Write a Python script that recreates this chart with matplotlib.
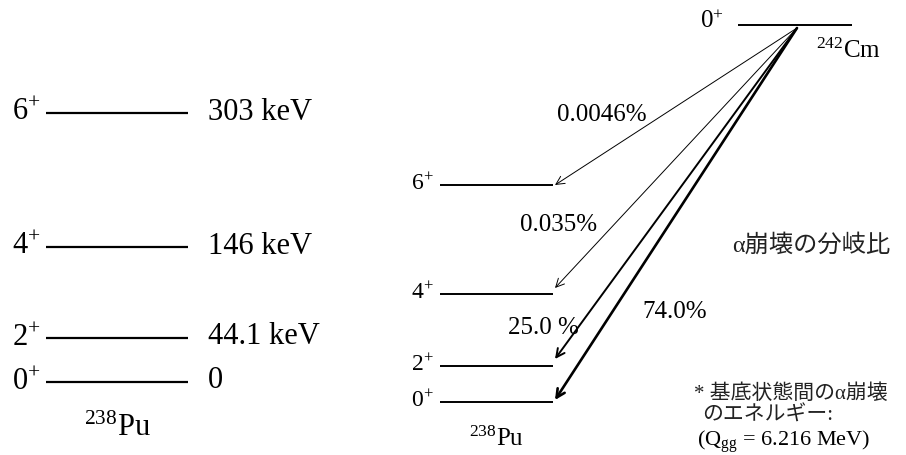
import matplotlib
matplotlib.use("Agg")
import matplotlib.pyplot as plt

plt.rcParams['font.family'] = ['Liberation Serif', 'Noto Sans CJK JP']
plt.rcParams['mathtext.fontset'] = 'custom'
plt.rcParams['mathtext.rm'] = 'Liberation Serif'

# 238Pu levels (spin, energy label)
spins = ['6', '4', '2', '0']
energies = ['303 keV', '146 keV', '44.1 keV', '0']
# alpha branching ratios of 242Cm -> 238Pu levels
branches = ['0.0046%', '0.035%', '25.0 %', '74.0%']

# layout (pixel coordinates, y downwards)
left_y = [113, 247, 338, 382]
right_y = [185, 294, 366, 402]
arrow_end_y = [185, 288, 359, 400]
arrow_lw = [0.7, 0.7, 1.4, 1.9]
branch_xy = [(557, 115), (520, 225), (508, 328), (642, 312)]

fig = plt.figure(figsize=(9.06, 4.55), dpi=100)
ax = fig.add_axes([0, 0, 1, 1])
ax.set_xlim(0, 906)
ax.set_ylim(455, 0)
ax.axis('off')

# left diagram
for s, e, y in zip(spins, energies, left_y):
    ax.plot([46, 188], [y, y], color='black', lw=1.6, solid_capstyle='butt')
    ax.text(41, y, r'$\mathregular{%s^{+}}$' % s, fontsize=22, ha='right', va='center')
    ax.text(208, y - 1, e, fontsize=22, ha='left', va='center')
ax.text(117, 428, r'$\mathregular{^{238}Pu}$', fontsize=22, ha='center', va='center')

# right diagram: 242Cm ground state
ax.plot([738, 852], [25, 25], color='black', lw=1.4, solid_capstyle='butt')
ax.text(724, 22, r'$\mathregular{0^{+}}$', fontsize=18, ha='right', va='center')
ax.text(848, 51, r'$\mathregular{^{242}Cm}$', fontsize=18, ha='center', va='center')

for s, y in zip(spins, right_y):
    ax.plot([440, 553], [y, y], color='black', lw=1.4, solid_capstyle='butt')
    ax.text(434, y - 1, r'$\mathregular{%s^{+}}$' % s, fontsize=17, ha='right', va='center')
ax.text(497, 439, r'$\mathregular{^{238}Pu}$', fontsize=18, ha='center', va='center')

for b, yend, lw, (tx, ty) in zip(branches, arrow_end_y, arrow_lw, branch_xy):
    ax.annotate('', xy=(555, yend), xytext=(797, 28),
                arrowprops=dict(arrowstyle='->', color='black', lw=lw,
                                mutation_scale=15, shrinkA=0, shrinkB=0))
    ax.text(tx, ty, b, fontsize=18, ha='left', va='center')

ax.text(732, 245, 'α崩壊の分岐比', fontsize=17.5, ha='left', va='center',
        color='#222222')
ax.text(694, 394, '* 基底状態間のα崩壊', fontsize=15, ha='left', va='center',
        color='#222222')
ax.text(702, 416, 'のエネルギー:', fontsize=15, ha='left', va='center',
        color='#222222')
ax.text(697, 442, r'($\mathregular{Q_{gg}}$ = 6.216 MeV)', fontsize=16,
        ha='left', va='center')

fig.savefig('out.png', dpi=100)
